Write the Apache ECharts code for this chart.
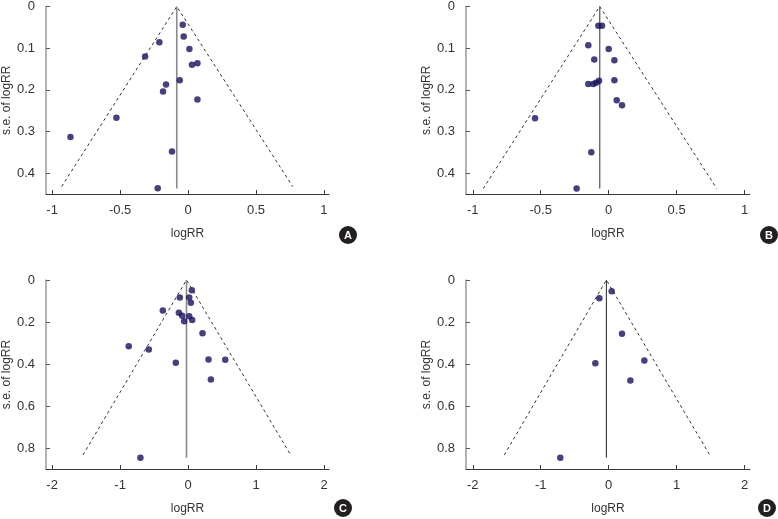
<!DOCTYPE html>
<html><head><meta charset="utf-8">
<script src="https://cdn.jsdelivr.net/npm/echarts@6/dist/echarts.min.js"></script>
<style>html,body{margin:0;padding:0;background:#fff}#c{width:778px;height:519px}</style>
</head><body><div id="c"></div>
<script>
// ---- data ----
const panelLetters = ['A', 'B', 'C', 'D'];
const aLogRR = [-0.039, -0.032, -0.211, 0.010, -0.316, 0.029, 0.069, -0.061, -0.162, -0.184, 0.069, -0.527, -0.865, -0.118, -0.223];
const aSE    = [0.044, 0.072, 0.086, 0.102, 0.120, 0.140, 0.136, 0.177, 0.187, 0.204, 0.223, 0.267, 0.313, 0.348, 0.436];
const bLogRR = [-0.076, -0.049, -0.150, 0.000, -0.106, 0.042, -0.150, -0.113, -0.093, -0.071, 0.042, 0.059, 0.098, -0.542, -0.128, -0.236];
const bSE    = [0.046, 0.046, 0.093, 0.102, 0.127, 0.129, 0.186, 0.186, 0.183, 0.178, 0.177, 0.225, 0.237, 0.268, 0.350, 0.437];
const cLogRR = [0.054, -0.123, 0.015, 0.039, -0.373, -0.137, -0.088, 0.015, -0.059, 0.059, 0.211, -0.874, -0.579, -0.182, 0.299, 0.545, 0.334, -0.702];
const cSE    = [0.049, 0.083, 0.083, 0.108, 0.145, 0.156, 0.170, 0.173, 0.197, 0.191, 0.253, 0.315, 0.331, 0.394, 0.379, 0.380, 0.474, 0.846];
const dLogRR = [0.044, -0.137, 0.196, 0.525, -0.196, 0.319, -0.712];
const dSE    = [0.054, 0.087, 0.256, 0.383, 0.396, 0.479, 0.846];
// funnel: pooled estimate (apex), dashed-line end points, vertical line length
const funnelCenter = [-0.083, -0.066, -0.025, -0.034];
const funnelLeft   = [-0.930, -0.923, -1.546, -1.536];
const funnelRight  = [0.770, 0.795, 1.507, 1.487];
const funnelSE     = [0.432, 0.437, 0.833, 0.833];
const vlineSE      = [0.437, 0.437, 0.846, 0.846];
// axes
const xMin = [-1.045, -1.05, -2.09, -2.10];
const xMax = [1.037, 1.04, 2.07, 2.08];
const yMax = [0.45, 0.45, 0.9, 0.9];
const xTicksSmall = [-1, -0.5, 0, 0.5, 1];
const xTicksLarge = [-2, -1, 0, 1, 2];
const yTicksSmall = [0, 0.1, 0.2, 0.3, 0.4];
const yTicksLarge = [0, 0.2, 0.4, 0.6, 0.8];
const xTitle = 'logRR';
const yTitle = 's.e. of logRR';

// ---- layout ----
const FONT = "'Liberation Sans', Arial, sans-serif";
const grids = [
  {left: 46, top: 5, width: 283, height: 189},
  {left: 466, top: 5, width: 284, height: 189},
  {left: 46, top: 280, width: 283, height: 189},
  {left: 466, top: 280, width: 284, height: 189}
];
const pts = [[aLogRR, aSE], [bLogRR, bSE], [cLogRR, cSE], [dLogRR, dSE]];
const xT = [xTicksSmall, xTicksSmall, xTicksLarge, xTicksLarge];
const yT = [yTicksSmall, yTicksSmall, yTicksLarge, yTicksLarge];
const vColor = ['#8a8a8a', '#6a6a6a', '#8a8a8a', '#222'];
const vWidth = [1.6, 1.4, 1.6, 1];

const xAxis = [], yAxis = [], series = [], graphic = [];
for (let i = 0; i < 4; i++) {
  xAxis.push({
    gridIndex: i, type: 'value', min: xMin[i], max: xMax[i],
    name: xTitle, nameLocation: 'middle', nameGap: 34,
    nameTextStyle: {fontFamily: FONT, fontSize: 12, color: '#333'},
    axisLine: {show: true, onZero: false, lineStyle: {color: '#3a3a3a', width: 1}},
    axisTick: {show: true, inside: true, length: 4, customValues: xT[i], lineStyle: {color: '#3a3a3a'}},
    axisLabel: {customValues: xT[i], margin: 10, fontFamily: FONT, fontSize: 13, color: '#333',
      formatter: v => String(v)},
    splitLine: {show: false}
  });
  yAxis.push({
    gridIndex: i, type: 'value', inverse: true, min: 0, max: yMax[i],
    name: yTitle, nameLocation: 'middle', nameGap: 31,
    nameTextStyle: {fontFamily: FONT, fontSize: 12, color: '#333'},
    axisLine: {show: true, onZero: false, lineStyle: {color: '#9a9a9a', width: 1.5}},
    axisTick: {show: true, inside: true, length: 4, customValues: yT[i], lineStyle: {color: '#555'}},
    axisLabel: {customValues: yT[i], margin: 11, fontFamily: FONT, fontSize: 13, color: '#333',
      formatter: v => String(v)},
    splitLine: {show: false}
  });
  // funnel dashed lines
  series.push({
    type: 'line', xAxisIndex: i, yAxisIndex: i, symbol: 'none', silent: true, z: 2,
    data: [[funnelLeft[i], funnelSE[i]], [funnelCenter[i], 0], [funnelRight[i], funnelSE[i]]],
    lineStyle: {color: '#333', width: 1, type: [3, 3]}
  });
  // vertical pooled-estimate line
  series.push({
    type: 'line', xAxisIndex: i, yAxisIndex: i, symbol: 'none', silent: true, z: 2,
    data: [[funnelCenter[i], 0], [funnelCenter[i], vlineSE[i]]],
    lineStyle: {color: vColor[i], width: vWidth[i]}
  });
  // study points
  series.push({
    type: 'scatter', xAxisIndex: i, yAxisIndex: i, symbolSize: 6.5, z: 3,
    data: pts[i][0].map((x, k) => [x, pts[i][1][k]]),
    itemStyle: {color: '#15125e'}
  });
}
// panel letters
const letterPos = [[348, 235], [769, 235], [343, 508], [767, 508]];
for (let i = 0; i < 4; i++) {
  graphic.push({type: 'circle', shape: {cx: letterPos[i][0], cy: letterPos[i][1], r: 9}, style: {fill: '#231f20'}});
  graphic.push({type: 'text', x: letterPos[i][0], y: letterPos[i][1] + 0.5,
    style: {text: panelLetters[i], fill: '#fff', font: "bold 11px 'Liberation Sans', Arial, sans-serif", align: 'center', verticalAlign: 'middle'}});
}

const chart = echarts.init(document.getElementById('c'), null, {renderer: 'canvas'});
chart.setOption({
  animation: false,
  backgroundColor: '#fff',
  grid: grids,
  xAxis: xAxis,
  yAxis: yAxis,
  series: series,
  graphic: graphic
});
</script></body></html>
